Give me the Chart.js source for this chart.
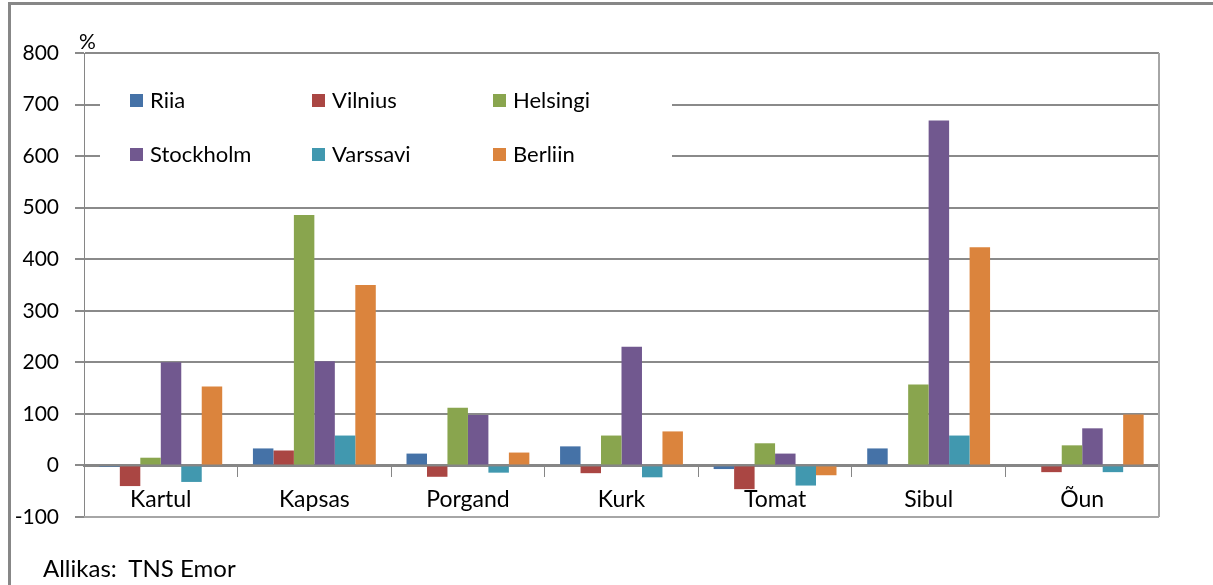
<!DOCTYPE html>
<html>
<head>
<meta charset="utf-8">
<script src="https://cdn.jsdelivr.net/npm/chart.js@4"></script>
<style>
  html, body { margin: 0; padding: 0; background: #fff; }
  #wrap { position: relative; width: 1213px; height: 585px; overflow: hidden; font-family: Lato, "Open Sans", sans-serif; }
  #frame { position: absolute; left: 8px; top: 2px; width: 1300px; height: 700px; border-left: 3px solid #878787; border-top: 3px solid #878787; }
  #c { position: absolute; left: 0; top: 0; }
  .txt { position: absolute; color: #000; white-space: nowrap; }
  #pct { left: 79px; top: 28px; font-size: 21px; }
  #src { left: 43px; top: 553px; font-size: 24px; }
</style>
</head>
<body>
<div id="wrap">
  <div id="frame"></div>
  <canvas id="c" width="1213" height="585"></canvas>
  <div class="txt" id="pct">%</div>
  <div class="txt" id="src">Allikas:&nbsp; TNS Emor</div>
</div>
<script>
const categories = ['Kartul', 'Kapsas', 'Porgand', 'Kurk', 'Tomat', 'Sibul', 'Õun'];
const seriesNames = ['Riia', 'Vilnius', 'Helsingi', 'Stockholm', 'Varssavi', 'Berliin'];
const riia      = [-3,  33,  23,  37,  -7,  33,   0];
const vilnius   = [-40, 29, -22, -15, -46,   0, -13];
const helsingi  = [15, 486, 112,  58,  43, 157,  39];
const stockholm = [200, 202, 98, 230,  23, 669,  72];
const varssavi  = [-32, 58, -14, -23, -39,  58, -13];
const berliin   = [153, 350, 25,  66, -19, 423,  99];
const yTicks = [-100, 0, 100, 200, 300, 400, 500, 600, 700, 800];
const colors = ['#4572A7', '#AA4643', '#89A54E', '#71588F', '#4198AF', '#DB843D'];

const seriesValues = [riia, vilnius, helsingi, stockholm, varssavi, berliin];
const FONT = 'Lato, "Open Sans", sans-serif';

const legendPlugin = {
  id: 'customLegend',
  beforeDatasetsDraw(chart) {
    const ctx = chart.ctx;
    ctx.save();
    ctx.fillStyle = '#ffffff';
    ctx.fillRect(100, 66, 572, 118);
    const colX = [130, 312, 493];
    const rowY = [100, 154];
    ctx.font = '22px ' + FONT;
    ctx.textBaseline = 'middle';
    ctx.textAlign = 'left';
    chart.data.datasets.forEach((ds, i) => {
      const x = colX[i % 3];
      const y = rowY[Math.floor(i / 3)];
      ctx.fillStyle = ds.backgroundColor;
      ctx.fillRect(x, y - 6, 13, 13);
      ctx.fillStyle = '#000';
      ctx.fillText(ds.label, x + 20, y + 1);
    });
    ctx.restore();
  },
  afterDraw(chart) {
    const a = chart.chartArea;
    const ctx = chart.ctx;
    ctx.save();
    ctx.strokeStyle = '#A6A6A6';
    ctx.lineWidth = 2;
    ctx.beginPath();
    ctx.moveTo(a.right, a.top);
    ctx.lineTo(a.right, a.bottom);
    ctx.stroke();
    ctx.beginPath();
    ctx.moveTo(a.left, a.bottom);
    ctx.lineTo(a.right, a.bottom);
    ctx.stroke();
    ctx.restore();
  }
};

new Chart(document.getElementById('c'), {
  type: 'bar',
  data: {
    labels: categories,
    datasets: seriesNames.map((n, i) => ({
      label: n,
      data: seriesValues[i],
      backgroundColor: colors[i],
      borderWidth: 0,
      barPercentage: 1.0,
      categoryPercentage: 0.8
    }))
  },
  options: {
    responsive: false,
    animation: false,
    layout: { padding: { left: 0, right: 54, top: 53, bottom: 68 } },
    plugins: { legend: { display: false }, tooltip: { enabled: false }, title: { display: false } },
    scales: {
      x: {
        position: { y: 0 },
        grid: { offset: true, drawOnChartArea: false, drawTicks: true, tickLength: 10, color: '#868686', lineWidth: 1 },
        border: { display: true, color: '#868686', width: 3 },
        ticks: { color: '#000', font: { family: FONT, size: 23 }, padding: 10, maxRotation: 0, autoSkip: false }
      },
      y: {
        min: -100,
        max: 800,
        afterFit(scale) { scale.width = 84; },
        afterBuildTicks(scale) { scale.ticks = yTicks.map(v => ({ value: v })); },
        grid: { color: '#8a8a8a', lineWidth: 2, tickLength: 9, drawTicks: true },
        border: { display: true, color: '#868686', width: 1 },
        ticks: { color: '#000', font: { family: FONT, size: 21 }, padding: 16 }
      }
    }
  },
  plugins: [legendPlugin]
});
</script>
</body>
</html>
